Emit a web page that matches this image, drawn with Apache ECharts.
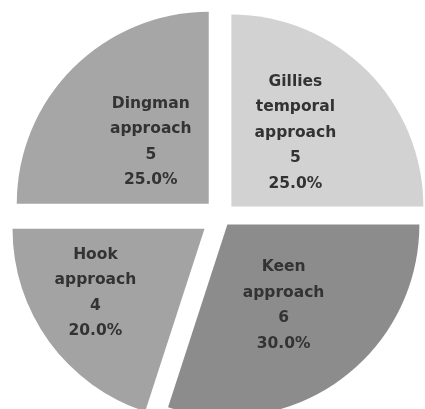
<!DOCTYPE html>
<html><head><meta charset="utf-8">
<script src="https://cdn.jsdelivr.net/npm/echarts@6/dist/echarts.min.js"></script>
<style>html,body{margin:0;padding:0;background:#fff}#c{width:425px;height:409px}</style>
</head><body><div id="c"></div>
<script>
const categories = ["Gillies temporal approach", "Keen approach", "Hook approach", "Dingman approach"];
const values = [5, 6, 4, 5];

// styling (not data)
const colors = ["#d2d2d2", "#8c8c8c", "#a3a3a3", "#a6a6a6"];
const explode = [14, 10, 21, 18];
const labelShift = [[-6, -4], [-2, 1], [-29, 6], [12, 8]];

const chart = echarts.init(document.getElementById('c'), null, {renderer: 'canvas'});

const series = categories.map((cat, k) => ({
  type: 'pie',
  center: [221.5, 216.5],
  radius: [0, 192],
  startAngle: 90,
  clockwise: true,
  selectedMode: 'multiple',
  selectedOffset: explode[k],
  avoidLabelOverlap: false,
  silent: true,
  emphasis: {disabled: true},
  labelLine: {show: false},
  labelLayout: function () { return {dx: labelShift[k][0], dy: labelShift[k][1]}; },
  label: {
    show: true,
    position: 'inside',
    fontFamily: 'DejaVu Sans',
    fontSize: 15.5,
    fontWeight: 'bold',
    color: '#333333',
    lineHeight: 25.5,
    align: 'center',
    formatter: function (p) {
      return p.name.split(' ').join('\n') + '\n' + p.value + '\n' + p.percent.toFixed(1) + '%';
    }
  },
  data: categories.map((n, i) => ({
    name: n,
    value: values[i],
    selected: i === k,
    itemStyle: {color: i === k ? colors[i] : 'rgba(0,0,0,0)', borderWidth: 0},
    label: {show: i === k}
  }))
}));

chart.setOption({animation: false, series: series});
</script></body></html>
